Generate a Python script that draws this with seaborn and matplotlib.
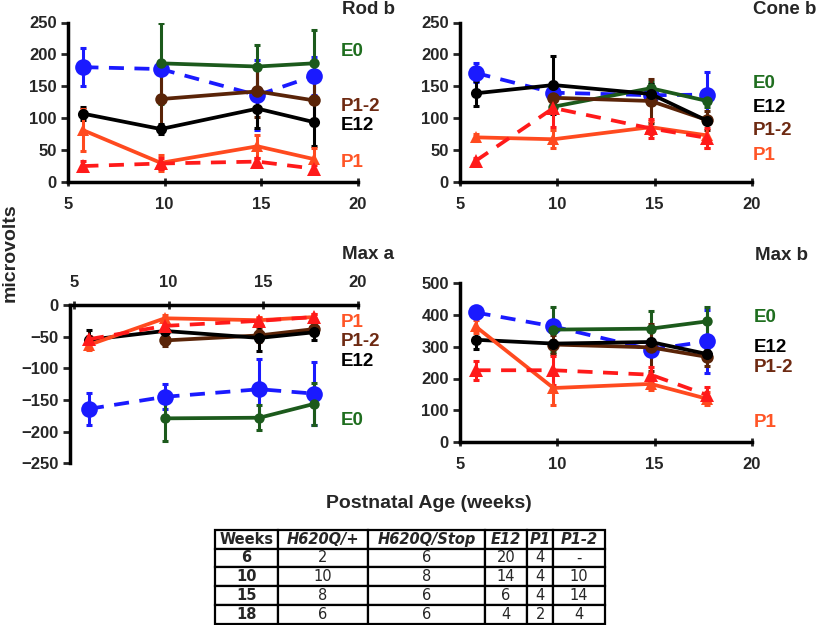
import numpy as np
import pandas as pd
import matplotlib
matplotlib.use("Agg")
import matplotlib.pyplot as plt
import seaborn as sns

sns.set_theme(style="white")
plt.rcParams['font.family'] = ['Liberation Sans', 'DejaVu Sans']
plt.rcParams['font.weight'] = 'bold'

# ---------------- data ----------------
weeks = [5.8, 9.8, 14.8, 17.7]
series_names = ["H620Q/+", "H620Q/Stop", "E0", "E12", "P1", "P1-2"]

rod_b_mean = {
    "H620Q/+":    [180, 177, 136, 166],
    "H620Q/Stop": [25, 29, 32, 21],
    "E0":         [None, 186, 181, 186],
    "E12":        [107, 83, 115, 94],
    "P1":         [81, 30, 56, 36],
    "P1-2":       [None, 130, 142, 128],
}
rod_b_err = {
    "H620Q/+":    [30, 10, 55, 30],
    "H620Q/Stop": [8, 8, 6, 6],
    "E0":         [None, 63, 33, 53],
    "E12":        [10, 8, 30, 37],
    "P1":         [33, 12, 18, 18],
    "P1-2":       [None, 40, 40, 30],
}
cone_b_mean = {
    "H620Q/+":    [171, 140, 136, 137],
    "H620Q/Stop": [33, 116, 84, 69],
    "E0":         [None, 118, 147, 127],
    "E12":        [139, 152, 138, 96],
    "P1":         [70, 67, 86, 73],
    "P1-2":       [None, 132, 127, 97],
}
cone_b_err = {
    "H620Q/+":    [15, 5, 10, 36],
    "H620Q/Stop": [5, 30, 15, 15],
    "E0":         [None, 10, 10, 10],
    "E12":        [20, 46, 15, 5],
    "P1":         [5, 14, 10, 20],
    "P1-2":       [None, 20, 35, 15],
}
max_a_mean = {
    "H620Q/+":    [-164, -145, -133, -140],
    "H620Q/Stop": [-54, -33, -25, -19],
    "E0":         [None, -179, -178, -156],
    "E12":        [-55, -41, -52, -43],
    "P1":         [-63, -21, -24, -19],
    "P1-2":       [None, -56, -48, -38],
}
max_a_err = {
    "H620Q/+":    [25, 20, 48, 50],
    "H620Q/Stop": [5, 5, 5, 5],
    "E0":         [None, 35, 20, 33],
    "E12":        [15, 5, 20, 12],
    "P1":         [8, 5, 5, 5],
    "P1-2":       [None, 8, 10, 8],
}
max_b_mean = {
    "H620Q/+":    [408, 364, 291, 317],
    "H620Q/Stop": [226, 226, 212, 148],
    "E0":         [None, 354, 357, 380],
    "E12":        [322, 310, 315, 277],
    "P1":         [364, 170, 183, 136],
    "P1-2":       [None, 307, 298, 268],
}
max_b_err = {
    "H620Q/+":    [15, 20, 20, 100],
    "H620Q/Stop": [30, 45, 25, 25],
    "E0":         [None, 72, 57, 45],
    "E12":        [30, 10, 10, 15],
    "P1":         [20, 55, 20, 20],
    "P1-2":       [None, 30, 75, 30],
}

panel_titles = ["Rod b", "Cone b", "Max a", "Max b"]

table_header = ["Weeks", "H620Q/+", "H620Q/Stop", "E12", "P1", "P1-2"]
table_rows = [
    ["6", "2", "6", "20", "4", "-"],
    ["10", "10", "8", "14", "4", "10"],
    ["15", "8", "6", "6", "4", "14"],
    ["18", "6", "6", "4", "2", "4"],
]

# ---------------- styles ----------------
colors = {
    "H620Q/+": "#1a1aff",
    "H620Q/Stop": "#ff1a1a",
    "E0": "#1c5a1c",
    "E12": "#000000",
    "P1": "#ff4a1f",
    "P1-2": "#5a2408",
}
label_colors = {"E0": "#1f6e1f", "E12": "#000000", "P1": "#ff5526", "P1-2": "#6e2a12"}
dash = {"H620Q/+": (4, 2.8), "H620Q/Stop": (4, 2.8)}
markers = {"H620Q/+": "o", "H620Q/Stop": "^", "E0": "o", "E12": "o", "P1": "^", "P1-2": "o"}
msize = {"H620Q/+": 12, "H620Q/Stop": 10.5, "E0": 7.5, "E12": 8, "P1": 8.5, "P1-2": 9}
draw_order = ["H620Q/+", "E0", "P1-2", "E12", "P1", "H620Q/Stop"]

fig = plt.figure(figsize=(8.2, 6.25), dpi=100)
fig.patch.set_facecolor("white")

positions = [
    [0.0829, 0.7088, 0.3537, 0.2552],
    [0.561, 0.7088, 0.356, 0.2552],
    [0.0854, 0.2587, 0.3512, 0.2533],
    [0.561, 0.2928, 0.356, 0.254],
]
means = [rod_b_mean, cone_b_mean, max_a_mean, max_b_mean]
errs = [rod_b_err, cone_b_err, max_a_err, max_b_err]
ylims = [(0, 250), (0, 250), (-250, 0), (0, 500)]
yticks = [np.arange(0, 251, 50), np.arange(0, 251, 50), np.arange(-250, 1, 50), np.arange(0, 501, 100)]
xlims = [(5, 20), (5, 20), (4.8, 20), (5, 20)]

label_pos = [
    {"E0": 204, "P1-2": 119, "E12": 88, "P1": 30},
    {"E0": 155, "E12": 116, "P1-2": 81, "P1": 42},
    {"P1": -27, "P1-2": -58, "E12": -90, "E0": -182},
    {"E0": 391, "E12": 299, "P1-2": 236, "P1": 60},
]
label_x = [19.1, 20.05, 19.1, 20.1]
title_pos = [(0.417, 0.984), (0.918, 0.984), (0.417, 0.593), (0.921, 0.592)]

for i in range(4):
    ax = fig.add_axes(positions[i])
    ax.set_facecolor("white")
    m, e = means[i], errs[i]
    for s in draw_order:
        df = pd.DataFrame({"week": weeks, "value": m[s], "err": e[s]}).dropna()
        ax.errorbar(df["week"], df["value"], yerr=df["err"], fmt="none",
                    ecolor=colors[s], elinewidth=2.2, capsize=2.5, capthick=2.2, zorder=2)
        kw = dict(x="week", y="value", data=df, ax=ax, color=colors[s],
                  marker=markers[s], markersize=msize[s], markeredgewidth=0,
                  linewidth=2.7, zorder=3, errorbar=None)
        if s in dash:
            sns.lineplot(dashes=False, linestyle=(0, dash[s]), **kw)
        else:
            sns.lineplot(**kw)
    ax.set_xlim(*xlims[i])
    ax.set_ylim(*ylims[i])
    ax.set_yticks(yticks[i])
    ax.set_xticks([5, 10, 15, 20])
    ax.set_xlabel("")
    ax.set_ylabel("")
    for sp in ax.spines.values():
        sp.set_visible(False)
    ax.spines["left"].set_visible(True)
    ax.spines["left"].set_linewidth(2.5)
    ax.spines["left"].set_color("black")
    if i == 2:
        ax.spines["top"].set_visible(True)
        ax.spines["top"].set_linewidth(2.5)
        ax.spines["top"].set_color("black")
        ax.xaxis.tick_top()
        ax.tick_params(axis="x", which="both", top=True, bottom=False,
                       labeltop=True, labelbottom=False, direction="inout",
                       length=6, width=2, pad=8, labelsize=12)
    else:
        ax.spines["bottom"].set_visible(True)
        ax.spines["bottom"].set_linewidth(2.5)
        ax.spines["bottom"].set_color("black")
        ax.tick_params(axis="x", bottom=True, direction="inout", length=6,
                       width=2, pad=8, labelsize=12)
    ax.tick_params(axis="y", left=True, direction="out", length=5, width=2,
                   pad=3, labelsize=12)
    for lab in ax.get_xticklabels() + ax.get_yticklabels():
        lab.set_fontweight("bold")
    for s, yv in label_pos[i].items():
        ax.text(label_x[i], yv, s, color=label_colors[s], fontsize=13.5,
                fontweight="bold", ha="left", va="center", clip_on=False)
    fig.text(title_pos[i][0], title_pos[i][1], panel_titles[i], fontsize=13.5,
             fontweight="bold", ha="left", va="center")

fig.text(0.012, 0.595, "microvolts", rotation=90, fontsize=14,
         fontweight="bold", ha="center", va="center")
fig.text(0.523, 0.195, "Postnatal Age (weeks)", fontsize=14,
         fontweight="bold", ha="center", va="center")

# ---------------- table ----------------
ax_t = fig.add_axes([0.262, 0.002, 0.476, 0.1504])
ax_t.axis("off")
col_w = [63, 90, 117, 42, 26, 52]
col_w = [w / sum(col_w) for w in col_w]
tbl = ax_t.table(cellText=table_rows, colLabels=table_header, colWidths=col_w,
                 cellLoc="center", bbox=[0, 0, 1, 1])
tbl.auto_set_font_size(False)
for (r, c), cell in tbl.get_celld().items():
    cell.set_edgecolor("black")
    cell.set_linewidth(1.6)
    txt = cell.get_text()
    txt.set_fontfamily("DejaVu Sans")
    txt.set_fontsize(10.5)
    if r == 0:
        txt.set_fontweight("bold")
        if c > 0:
            txt.set_fontstyle("italic")
    elif c == 0:
        txt.set_fontweight("bold")
    else:
        txt.set_fontweight("normal")

fig.savefig("out.png", dpi=100, facecolor="white")
